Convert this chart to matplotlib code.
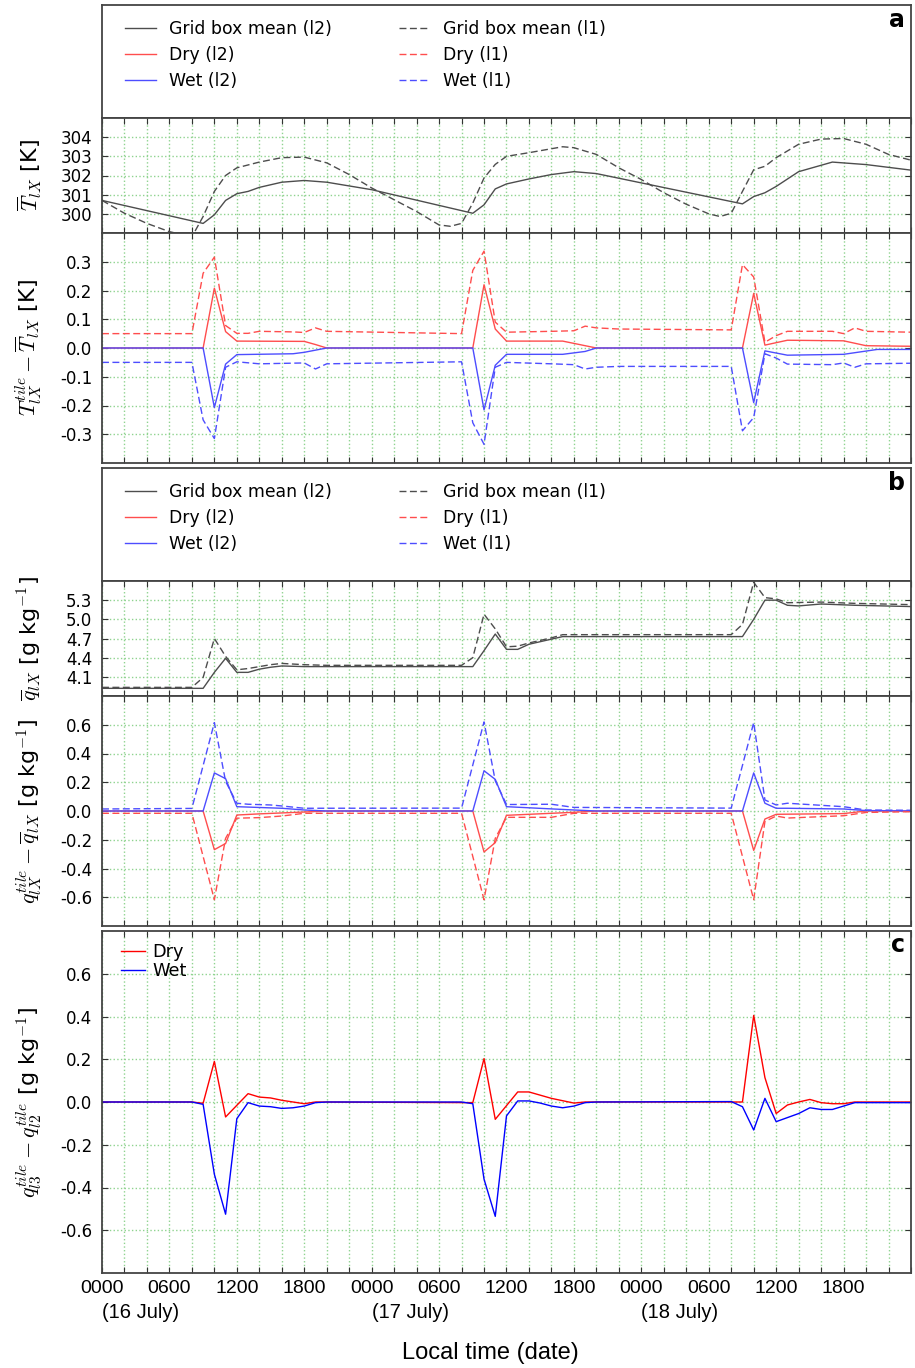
import numpy as np
import matplotlib
matplotlib.use("Agg")
import matplotlib.pyplot as plt
from matplotlib.ticker import FormatStrFormatter

plt.rcParams['font.family'] = ['DejaVu Sans']
plt.rcParams['mathtext.fontset'] = 'cm'
plt.rcParams['axes.unicode_minus'] = False

# font for the time axis
narrow = ['Liberation Sans', 'DejaVu Sans']

# ---- data (hour since 0000 16 July, value) ----
# grid box mean temperature [K]
T_l2_h = [0, 9, 10, 11, 12, 13, 14, 16, 18, 20, 24, 33, 34, 35, 36, 38, 40, 42, 44, 57,
          58, 59, 60, 62, 65, 68, 72]
T_l2 = [300.70, 299.50, 299.95, 300.70, 301.05, 301.17, 301.38, 301.65, 301.74, 301.65, 301.26,
        300.03, 300.47, 301.30, 301.56, 301.82, 302.05, 302.20, 302.10, 300.52,
        300.90, 301.10, 301.43, 302.20, 302.70, 302.57, 302.28]
T_l1_h = [0, 2, 4, 6, 8, 9, 10, 11, 12, 14, 16, 18, 20, 22, 24, 28, 30, 31, 32, 33, 34, 35,
          36, 38, 41, 42, 44, 46, 48, 50, 52, 54, 55, 56, 57, 58, 59, 60, 62, 64, 66, 68, 70, 72]
T_l1 = [300.70, 300.03, 299.50, 299.07, 298.80, 299.86, 301.17, 302.00, 302.40, 302.70, 302.93,
        302.96, 302.66, 302.05, 301.35, 300.12, 299.42, 299.35, 299.50, 300.56, 301.87, 302.58,
        303.00, 303.19, 303.50, 303.45, 303.10, 302.40, 301.79, 301.10, 300.50, 300.00, 299.86,
        300.03, 301.17, 302.30, 302.48, 302.93, 303.63, 303.90, 303.93, 303.63, 303.10, 302.80]

# tile minus grid box mean temperature [K]
dT_dry_l2_h = [0, 9, 10, 11, 12, 18, 19, 20, 33, 34, 35, 36, 41, 44, 57, 58, 59, 61, 66, 68, 72]
dT_dry_l2 = [0, 0, 0.208, 0.057, 0.024, 0.023, 0.012, 0, 0, 0.22, 0.066, 0.024, 0.024, 0, 0,
             0.19, 0.01, 0.027, 0.025, 0.008, 0.006]
dT_wet_l2_h = [0, 9, 10, 11, 12, 17, 18, 20, 33, 34, 35, 36, 41, 43, 44, 57, 58, 59, 61, 66, 69, 72]
dT_wet_l2 = [0, 0, -0.207, -0.056, -0.023, -0.02, -0.015, 0, 0, -0.215, -0.06, -0.022, -0.022,
             -0.012, 0, 0, -0.19, -0.01, -0.025, -0.022, -0.005, -0.005]
dT_dry_l1_h = [0, 8, 9, 10, 11, 12, 13, 14, 17, 18, 19, 20, 32, 33, 34, 35, 36, 40, 42, 43, 44,
               46, 56, 57, 58, 59, 60, 61, 65, 66, 67, 68, 72]
dT_dry_l1 = [0.05, 0.05, 0.26, 0.316, 0.078, 0.051, 0.051, 0.058, 0.056, 0.054, 0.07, 0.058,
             0.05, 0.27, 0.337, 0.09, 0.055, 0.058, 0.06, 0.076, 0.07, 0.066, 0.063, 0.29, 0.247,
             0.02, 0.043, 0.058, 0.058, 0.05, 0.07, 0.058, 0.055]
dT_wet_l1_h = [0, 8, 9, 10, 11, 12, 14, 18, 19, 20, 32, 33, 34, 35, 36, 40, 42, 43, 44, 46, 56,
               57, 58, 59, 60, 61, 65, 66, 67, 68, 72]
dT_wet_l1 = [-0.05, -0.05, -0.25, -0.315, -0.067, -0.048, -0.055, -0.052, -0.073, -0.055,
             -0.048, -0.26, -0.335, -0.067, -0.05, -0.055, -0.058, -0.073, -0.067, -0.064,
             -0.064, -0.288, -0.242, -0.02, -0.035, -0.056, -0.058, -0.052, -0.067, -0.055,
             -0.053]

# grid box mean humidity [g/kg]
q_l2_h = [0, 9, 10, 11, 12, 13, 14, 15, 16, 18, 33, 34, 35, 36, 37, 38, 40, 41, 57, 58, 59,
          60, 61, 62, 64, 67, 72]
q_l2 = [3.92, 3.92, 4.17, 4.39, 4.17, 4.17, 4.22, 4.25, 4.27, 4.26, 4.26, 4.51, 4.77, 4.53,
        4.53, 4.61, 4.69, 4.73, 4.73, 5.00, 5.30, 5.30, 5.22, 5.21, 5.24, 5.22, 5.20]
q_l1_h = [0, 8, 9, 10, 11, 12, 13, 15, 16, 18, 20, 32, 33, 34, 35, 36, 37, 38, 40, 41, 56,
          57, 58, 59, 60, 61, 64, 67, 72]
q_l1 = [3.935, 3.935, 4.09, 4.70, 4.42, 4.21, 4.23, 4.29, 4.31, 4.29, 4.28, 4.28, 4.40, 5.08,
        4.85, 4.57, 4.58, 4.63, 4.71, 4.76, 4.76, 4.92, 5.58, 5.34, 5.32, 5.26, 5.27, 5.25, 5.23]

# tile minus grid box mean humidity [g/kg]
dq_wet_l2_h = [0, 9, 10, 11, 12, 16, 18, 20, 33, 34, 35, 36, 42, 44, 57, 58, 59, 60, 61, 66, 68, 72]
dq_wet_l2 = [0, 0, 0.265, 0.225, 0.03, 0.019, 0.007, 0, 0, 0.28, 0.22, 0.03, 0.007, 0, 0,
             0.265, 0.054, 0.019, 0.019, 0.014, 0.003, 0]
dq_dry_l2_h = [0, 9, 10, 11, 12, 14, 18, 20, 33, 34, 35, 36, 42, 44, 57, 58, 59, 60, 66, 68, 72]
dq_dry_l2 = [0, 0, -0.269, -0.226, -0.028, -0.02, -0.007, 0, 0, -0.285, -0.22, -0.03, -0.009,
             0, 0, -0.274, -0.056, -0.023, -0.018, 0, 0]
dq_wet_l1_h = [0, 8, 10, 11, 12, 13, 15, 16, 18, 32, 34, 35, 36, 40, 42, 56, 58, 59, 60, 61,
               66, 68, 72]
dq_wet_l1 = [0.014, 0.018, 0.615, 0.206, 0.054, 0.047, 0.042, 0.035, 0.019, 0.02, 0.62, 0.21,
             0.045, 0.047, 0.025, 0.02, 0.615, 0.077, 0.042, 0.054, 0.03, 0.007, 0.005]
dq_dry_l1_h = [0, 8, 10, 11, 12, 14, 16, 18, 32, 34, 35, 36, 40, 42, 56, 58, 59, 60, 61, 66,
               68, 72]
dq_dry_l1 = [-0.016, -0.016, -0.617, -0.19, -0.05, -0.046, -0.035, -0.016, -0.016, -0.617,
             -0.19, -0.044, -0.044, -0.016, -0.016, -0.617, -0.073, -0.035, -0.049, -0.033,
             -0.01, -0.005]

# l3 minus l2 tile humidity [g/kg]
c_dry_h = [0, 8, 9, 10, 11, 13, 14, 15, 16, 17, 18, 19, 33, 34, 35, 37, 38, 40, 42, 43, 57,
           58, 59, 60, 61, 62, 63, 64, 65, 66, 67, 72]
c_dry = [0, 0, -0.006, 0.19, -0.07, 0.039, 0.023, 0.019, 0.008, 0, -0.008, 0, -0.003, 0.203,
         -0.081, 0.047, 0.047, 0.017, -0.005, 0, 0, 0.405, 0.114, -0.054, -0.014, 0, 0.012,
         -0.003, -0.008, -0.008, 0, 0]
c_wet_h = [0, 8, 9, 10, 11, 12, 13, 14, 15, 16, 17, 18, 19, 20, 32, 33, 34, 35, 36, 37, 38,
           39, 40, 41, 42, 43, 44, 56, 57, 58, 59, 60, 61, 62, 63, 64, 65, 66, 67, 72]
c_wet = [0, 0, -0.011, -0.338, -0.525, -0.078, -0.003, -0.019, -0.022, -0.03, -0.027, -0.019,
         -0.003, 0, 0, -0.008, -0.361, -0.535, -0.065, 0.005, 0.005, -0.005, -0.019, -0.027,
         -0.019, -0.003, 0, 0.002, -0.022, -0.131, 0.017, -0.092, -0.073, -0.054, -0.027,
         -0.035, -0.035, -0.019, -0.003, -0.003]

tick_hours = list(range(0, 73, 2))
tick_names = {0: '0000', 6: '0600', 12: '1200', 18: '1800'}
day_names = ['(16 July)', '(17 July)', '(18 July)']

leg_names = ['Grid box mean (l2)', 'Dry (l2)', 'Wet (l2)',
             'Grid box mean (l1)', 'Dry (l1)', 'Wet (l1)']

# ---- styles ----
gray = '#4d4d4d'
red2 = '#ff4d4d'
blue2 = '#4d4dff'
dash = (5, 2.5)
grid_col = '#8fd38f'
lw = 1.0

fig = plt.figure(figsize=(9.15, 13.68), dpi=100)
L, W = 102 / 915., 809 / 915.


def box(top, bot):
    return [L, 1 - bot / 1368., W, (bot - top) / 1368.]


def style(ax, ylim, yticks, fmt='%.1f', bottom=False):
    ax.set_xlim(0, 72)
    ax.set_ylim(ylim)
    ax.set_xticks(tick_hours)
    ax.set_yticks(yticks)
    ax.yaxis.set_major_formatter(FormatStrFormatter(fmt))
    ax.tick_params(direction='in', top=True, right=True, length=4, width=0.8,
                   labelsize=12, color='#333333', pad=7)
    if bottom:
        ax.set_xticklabels([tick_names.get(h % 24, '') if h % 6 == 0 and h < 72 else ''
                            for h in tick_hours], fontfamily=narrow, fontsize=14)
        ax.tick_params(axis='x', pad=5)
    else:
        ax.set_xticklabels([])
    ax.grid(True, color=grid_col, linestyle=':', linewidth=1.0)
    for s in ax.spines.values():
        s.set_color('#444444')
        s.set_linewidth(1.3)
    ax.yaxis.set_label_coords(-0.072, 0.5)


def legend_box(rect, letter):
    ax = fig.add_axes(rect)
    ax.set_xticks([])
    ax.set_yticks([])
    for s in ax.spines.values():
        s.set_color('#444444')
        s.set_linewidth(1.3)
    handles = []
    for c in [gray, red2, blue2]:
        handles.append(ax.plot([], [], color=c, lw=lw)[0])
    for c in [gray, red2, blue2]:
        handles.append(ax.plot([], [], color=c, lw=lw, dashes=dash)[0])
    ax.legend(handles, leg_names, ncol=2, loc='upper left', bbox_to_anchor=(0.012, 0.985),
              frameon=False, fontsize=12.4, handlelength=1.8, handletextpad=0.75,
              columnspacing=3.9, labelspacing=0.45, borderpad=0.3)
    ax.text(0.992, 0.975, letter, transform=ax.transAxes, ha='right', va='top',
            fontsize=17, fontweight='bold')


# panel a
legend_box(box(5, 118), 'a')

ax = fig.add_axes(box(118, 233))
ax.plot(T_l2_h, T_l2, color=gray, lw=lw)
ax.plot(T_l1_h, T_l1, color=gray, lw=lw, dashes=dash)
style(ax, (299, 305), [300, 301, 302, 303, 304], fmt='%d')
ax.set_ylabel(r'$\overline{T}_{lX}$ [K]', fontsize=16)

ax = fig.add_axes(box(233, 463))
ax.plot(dT_dry_l2_h, dT_dry_l2, color=red2, lw=lw)
ax.plot(dT_wet_l2_h, dT_wet_l2, color=blue2, lw=lw)
ax.plot(dT_dry_l1_h, dT_dry_l1, color=red2, lw=lw, dashes=dash)
ax.plot(dT_wet_l1_h, dT_wet_l1, color=blue2, lw=lw, dashes=dash)
style(ax, (-0.4, 0.4), np.round(np.arange(-0.3, 0.31, 0.1), 1))
ax.set_ylabel(r'$T_{lX}^{tile}-\overline{T}_{lX}$ [K]', fontsize=16)

# panel b
legend_box(box(468, 581), 'b')

ax = fig.add_axes(box(581, 696))
ax.plot(q_l2_h, q_l2, color=gray, lw=lw)
ax.plot(q_l1_h, q_l1, color=gray, lw=lw, dashes=dash)
style(ax, (3.8, 5.6), [4.1, 4.4, 4.7, 5.0, 5.3])
ax.set_ylabel(r'$\overline{q}_{lX}$ [g kg$^{-1}$]', fontsize=16)

ax = fig.add_axes(box(696, 926))
ax.plot(dq_dry_l2_h, dq_dry_l2, color=red2, lw=lw)
ax.plot(dq_wet_l2_h, dq_wet_l2, color=blue2, lw=lw)
ax.plot(dq_dry_l1_h, dq_dry_l1, color=red2, lw=lw, dashes=dash)
ax.plot(dq_wet_l1_h, dq_wet_l1, color=blue2, lw=lw, dashes=dash)
style(ax, (-0.8, 0.8), np.round(np.arange(-0.6, 0.61, 0.2), 1))
ax.set_ylabel(r'$q_{lX}^{tile}-\overline{q}_{lX}$ [g kg$^{-1}$]', fontsize=16)

# panel c
ax = fig.add_axes(box(931, 1273))
ax.plot(c_dry_h, c_dry, color='red', lw=lw, label='Dry')
ax.plot(c_wet_h, c_wet, color='blue', lw=lw, label='Wet')
style(ax, (-0.8, 0.8), np.round(np.arange(-0.6, 0.61, 0.2), 1), bottom=True)
ax.set_ylabel(r'$q_{l3}^{tile}-q_{l2}^{tile}$ [g kg$^{-1}$]', fontsize=16)
ax.legend(loc='upper left', frameon=False, fontsize=12.8, handlelength=1.4,
          handletextpad=0.4, labelspacing=0.05, borderaxespad=0.1,
          bbox_to_anchor=(0.012, 0.99))
ax.text(0.992, 0.995, 'c', transform=ax.transAxes, ha='right', va='top',
        fontsize=17, fontweight='bold')
for i, name in enumerate(day_names):
    ax.text(24 * i, -0.115, name, transform=ax.get_xaxis_transform(), ha='left', va='center',
            fontfamily=narrow, fontsize=14.5)

fig.text(490 / 915., 1 - 1353 / 1368., 'Local time (date)', ha='center', va='center',
         fontfamily=narrow, fontsize=17)

fig.savefig('out.png', dpi=100)
